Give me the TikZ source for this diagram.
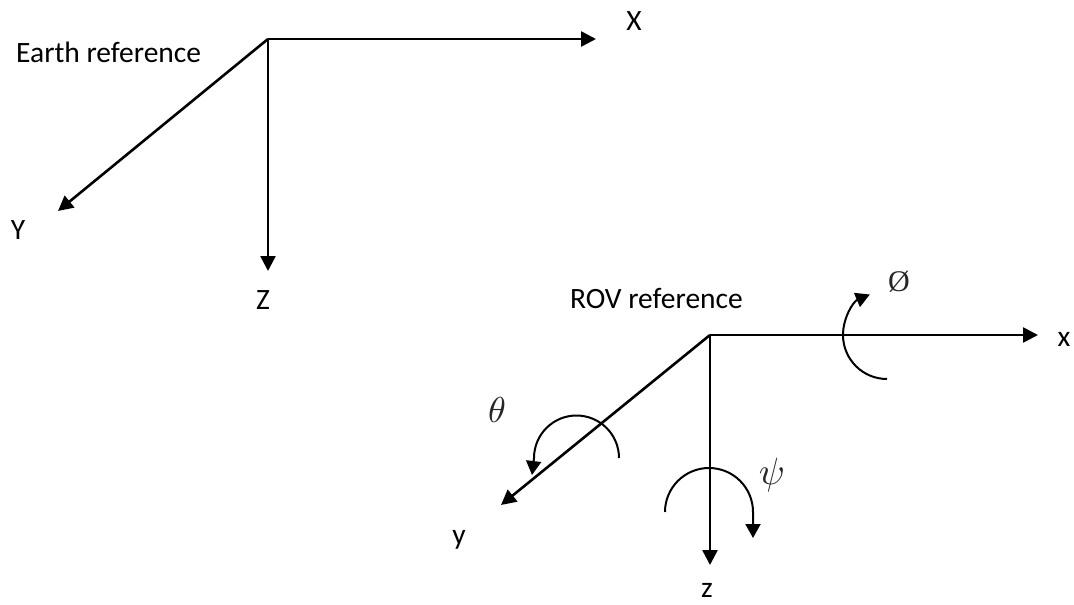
\documentclass[tikz,border=0pt]{standalone}
\usepackage{fontspec}
\setmainfont{Carlito}
\newfontfamily\phifont{Liberation Serif}
\usetikzlibrary{arrows.meta}
\begin{document}
\begin{tikzpicture}[x=1pt,y=-1pt,
  axis/.style={line width=2.6pt,-{Triangle[length=15pt,width=15pt]}},
  rot/.style={line width=2pt,-{Triangle[length=14pt,width=15pt]}},
  lbl/.style={font=\fontsize{29.5}{31}\selectfont, inner sep=0pt},
  sym/.style={inner sep=0pt, text=black!85}]
\useasboundingbox (0,0) rectangle (1074,605);
% Earth frame
\coordinate (EO) at (268,39);
\coordinate (EX) at (596,39);
\coordinate (EY) at (58,211);
\coordinate (EZ) at (268,271);
\draw[axis] (EO) -- (EX);
\draw[axis] (EO) -- (EY);
\draw[axis] (EO) -- (EZ);
\node[lbl, anchor=base west] (earth) at (16,62) {Earth reference};
\node[lbl] (Xl) at (634,21) {X};
\node[lbl] (Yl) at (18,230) {Y};
\node[lbl] (Zl) at (263,300) {Z};
% ROV frame
\coordinate (RO) at (710,335);
\coordinate (RX) at (1038,335);
\coordinate (RY) at (501,505);
\coordinate (RZ) at (710,565);
\draw[axis] (RO) -- (RX);
\draw[axis] (RO) -- (RY);
\draw[axis] (RO) -- (RZ);
\node[lbl, anchor=base east] (rov) at (743,308) {ROV reference};
\node[lbl, anchor=base] (xl) at (1064,346) {x};
\node[lbl, anchor=base] (yl) at (459,544) {y};
\node[lbl, anchor=base] (zl) at (707,597) {z};
% rotations
\coordinate (phiS) at (887,379);
\draw[rot] (phiS) arc[start angle=270, end angle=113, radius=44pt];
\coordinate (thS) at (619,458);
\draw[rot] (thS) arc[start angle=0, end angle=180, radius=42.5pt] -- ++(-2,17);
\coordinate (psS) at (665,512);
\draw[rot] (psS) arc[start angle=180, end angle=0, radius=44pt] -- ++(0,26);
\node[sym, font=\phifont\fontsize{30}{32}\selectfont] (phi) at (899,282) {Ø};
\node[sym, scale=3.6] (theta) at (497,410) {$\theta$};
\node[sym, scale=3.8] (psi) at (772,475) {$\psi$};
\end{tikzpicture}
\end{document}
